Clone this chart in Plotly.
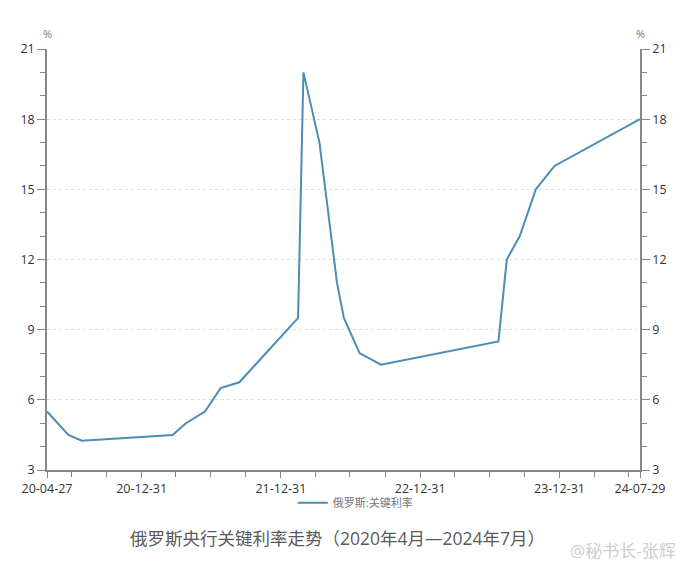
import plotly.graph_objects as go

dates = ["2020-04-27", "2020-06-22", "2020-07-27", "2021-03-22", "2021-04-26",
         "2021-06-15", "2021-07-26", "2021-09-13", "2021-10-25", "2021-12-20",
         "2022-02-14", "2022-02-28", "2022-04-11", "2022-05-04", "2022-05-27",
         "2022-06-14", "2022-07-25", "2022-09-19", "2023-07-24", "2023-08-15",
         "2023-09-18", "2023-10-30", "2023-12-18", "2024-07-29"]
rates = [5.5, 4.5, 4.25, 4.5, 5.0,
         5.5, 6.5, 6.75, 7.5, 8.5,
         9.5, 20, 17, 14, 11,
         9.5, 8, 7.5, 8.5, 12,
         13, 15, 16, 18]

x_tick_vals = ["2020-04-27", "2020-12-31", "2021-12-31", "2022-12-31", "2023-12-31", "2024-07-29"]
x_tick_text = ["20-04-27", "20-12-31", "21-12-31", "22-12-31", "23-12-31", "24-07-29"]
x_minor_vals = ["2020-06-30", "2020-09-30", "2021-03-31", "2021-06-30", "2021-09-30",
                "2022-03-31", "2022-06-30", "2022-09-30", "2023-03-31", "2023-06-30",
                "2023-09-30", "2024-03-31", "2024-06-30"]
series_name = "俄罗斯:关键利率"
caption = "俄罗斯央行关键利率走势（2020年4月—2024年7月）"
watermark = "@秘书长-张辉"

FONT = "Open Sans, Noto Sans CJK SC, sans-serif"
AXIS_COLOR = "#888888"

fig = go.Figure()
fig.add_trace(go.Scatter(x=dates, y=rates, mode="lines", name=series_name,
                         line=dict(color="#4a8db5", width=2)))
fig.add_trace(go.Scatter(x=dates, y=rates, mode="lines", yaxis="y2",
                         line=dict(color="rgba(0,0,0,0)", width=0),
                         showlegend=False, hoverinfo="skip"))

fig.update_layout(
    width=682, height=564,
    margin=dict(l=39, r=50, t=41, b=102),
    paper_bgcolor="white", plot_bgcolor="white",
    font=dict(family=FONT, size=12, color="#333333"),
    showlegend=True,
    legend=dict(orientation="h", x=0.52, xanchor="center", y=-0.078, yanchor="middle",
                font=dict(size=11, color="#777777"), bgcolor="rgba(0,0,0,0)"),
    xaxis=dict(
        type="date", range=["2020-04-27", "2024-07-29"],
        tickmode="array", tickvals=x_tick_vals, ticktext=x_tick_text,
        ticks="outside", ticklen=6, tickcolor=AXIS_COLOR, tickwidth=1,
        showline=True, linecolor=AXIS_COLOR, linewidth=1.5,
        showgrid=False, zeroline=False,
        tickfont=dict(size=12.5, color="#333333"),
        minor=dict(tickmode="array", tickvals=x_minor_vals, ticks="outside",
                   ticklen=5, tickcolor=AXIS_COLOR, showgrid=False),
    ),
    yaxis=dict(
        range=[3, 21], tickmode="linear", tick0=3, dtick=3,
        ticks="outside", ticklen=8, tickcolor=AXIS_COLOR,
        showline=True, linecolor=AXIS_COLOR, linewidth=1.5,
        showgrid=True, gridcolor="#dddddd", griddash="dot", gridwidth=1,
        zeroline=False, tickfont=dict(size=12.5, color="#333333"),
        minor=dict(tick0=3, dtick=1, ticks="outside", ticklen=5,
                   tickcolor=AXIS_COLOR, showgrid=False),
    ),
    yaxis2=dict(
        overlaying="y", side="right", matches="y",
        range=[3, 21], tickmode="linear", tick0=3, dtick=3,
        ticks="outside", ticklen=8, tickcolor=AXIS_COLOR,
        showline=True, linecolor=AXIS_COLOR, linewidth=1.5,
        showgrid=False, zeroline=False, tickfont=dict(size=12.5, color="#333333"),
        minor=dict(tick0=3, dtick=1, ticks="outside", ticklen=5,
                   tickcolor=AXIS_COLOR, showgrid=False),
    ),
)

fig.add_annotation(text="%", xref="paper", yref="paper", x=0, y=1, yshift=16,
                   xanchor="center", yanchor="middle",
                   showarrow=False, font=dict(size=11, color="#777777"))
fig.add_annotation(text="%", xref="paper", yref="paper", x=1, y=1, yshift=16,
                   xanchor="center", yanchor="middle",
                   showarrow=False, font=dict(size=11, color="#777777"))
fig.add_annotation(text=caption, xref="paper", yref="paper", x=0.49, y=0, yshift=-68,
                   yanchor="middle", xanchor="center",
                   showarrow=False, font=dict(size=17.5, color="#5a5a5a"))
fig.add_annotation(text=watermark, xref="paper", yref="paper", x=1.064, y=0, yshift=-80,
                   xanchor="right", yanchor="middle",
                   showarrow=False, font=dict(size=17, color="#cfcfcf"))

fig.write_html("out.html")
